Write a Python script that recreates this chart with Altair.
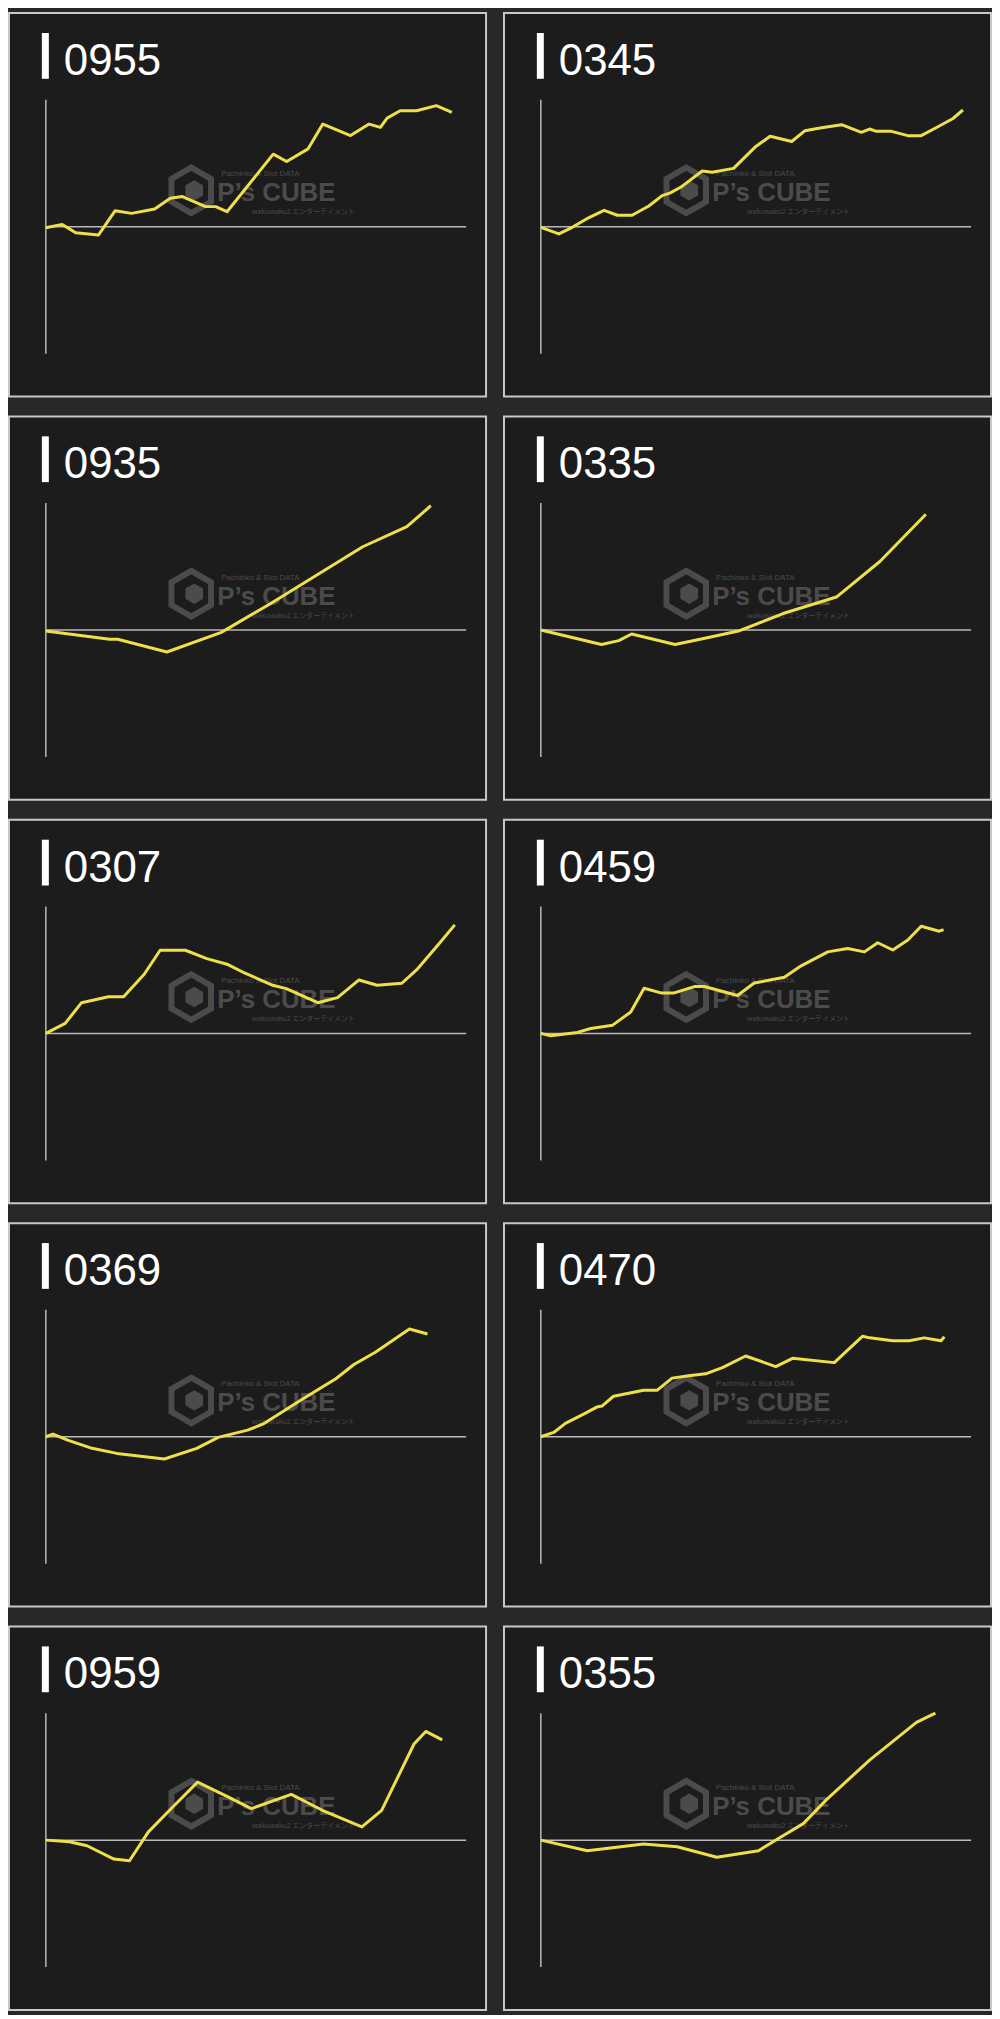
import altair as alt
import pandas as pd

# ---------------- data (x: % of run length, y: % of axis half-range) ----------------
names = ["0955", "0345", "0935", "0335", "0307", "0459", "0369", "0470", "0959", "0355"]

x_0955 = [0, 3.9, 7.1, 12.5, 16.5, 20.4, 25.9, 29.6, 32.5, 38.0, 40.4, 43.1, 54.1, 57.3, 62.4, 65.9, 72.5, 76.9, 79.6, 81.2, 84.3, 88.2, 92.9, 96.6]
y_0955 = [-0.8, 1.8, -4.7, -6.6, 12.6, 10.5, 13.9, 22.4, 23.7, 15.8, 15.8, 11.8, 57.1, 51.3, 61.3, 80.8, 71.8, 80.8, 78.2, 85.5, 91.3, 91.3, 95.3, 90.0]

x_0345 = [0, 4.2, 7.3, 11.2, 14.7, 17.8, 21.2, 25.1, 28.2, 30.1, 32.8, 37.5, 39.8, 44.8, 49.8, 53.3, 58.3, 61.4, 64.9, 69.9, 74.5, 76.4, 78.0, 81.5, 85.3, 88.4, 92.3, 95.8, 98.1]
y_0345 = [-0.5, -5.7, -0.5, 7.2, 12.9, 9.0, 9.0, 16.3, 24.5, 26.6, 31.7, 43.9, 42.8, 45.9, 62.7, 71.2, 67.1, 75.6, 77.7, 80.3, 74.3, 76.9, 75.1, 75.1, 71.7, 71.7, 78.7, 85.2, 91.9]

x_0935 = [0, 15.2, 17.1, 28.8, 41.6, 44.7, 53.3, 64.1, 75.4, 85.9, 91.6]
y_0935 = [-0.8, -7.3, -7.3, -17.3, -2.1, 3.9, 20.5, 42.5, 65.6, 81.4, 97.9]

x_0335 = [0, 14.1, 18.1, 21.1, 31.2, 38.4, 46.2, 56.3, 68.7, 78.8, 89.5]
y_0335 = [0, -11.4, -8.3, -3.1, -11.4, -6.2, -0.5, 13.0, 26.0, 54.0, 91.2]

x_0307 = [0, 4.6, 8.5, 14.9, 18.5, 23.4, 27.2, 33.2, 38.3, 43.1, 47.4, 54.0, 57.2, 64.7, 69.4, 74.5, 78.8, 84.7, 88.2, 93.3, 97.3]
y_0307 = [0, 7.9, 24.2, 28.9, 28.9, 46.6, 65.5, 65.5, 58.9, 54.5, 47.4, 37.9, 35.3, 24.2, 28.2, 42.1, 37.9, 39.5, 50.0, 69.7, 85.5]

x_0459 = [0, 2.3, 8.5, 11.6, 16.7, 20.9, 24.0, 27.9, 31.0, 35.7, 38.0, 45.7, 49.6, 56.6, 60.5, 66.7, 71.3, 75.2, 78.3, 81.8, 85.3, 88.4, 92.6, 93.6]
y_0459 = [0, -1.8, 0.8, 3.9, 6.5, 16.9, 35.6, 31.9, 31.9, 36.9, 36.9, 29.9, 39.7, 44.2, 53.2, 64.2, 66.8, 64.2, 71.4, 65.7, 73.5, 84.4, 80.5, 81.8]

x_0369 = [0, 1.7, 5.2, 11.0, 16.9, 28.2, 35.9, 41.0, 48.0, 51.9, 61.2, 69.0, 73.3, 78.4, 86.5, 90.8]
y_0369 = [0, 2.1, -2.6, -9.1, -13.1, -17.5, -9.1, -0.5, 5.2, 10.4, 30.0, 45.7, 56.9, 66.6, 84.9, 80.9]

x_0470 = [0, 3.0, 5.7, 9.5, 13.0, 14.2, 16.9, 23.9, 27.0, 30.5, 34.4, 38.3, 42.2, 47.6, 54.6, 58.5, 68.2, 74.8, 76.4, 81.8, 85.6, 89.1, 93.0, 93.8]
y_0470 = [0, 3.4, 10.6, 17.1, 23.4, 24.2, 31.9, 36.6, 36.6, 46.2, 48.1, 49.6, 54.5, 63.6, 55.3, 61.8, 58.4, 79.2, 77.9, 75.6, 75.6, 77.9, 75.6, 78.7]

x_0959 = [0, 5.6, 9.8, 16.2, 19.9, 24.4, 30.2, 36.1, 43.1, 48.9, 58.4, 65.8, 75.2, 79.9, 87.6, 90.4, 94.3]
y_0959 = [0, -1.3, -4.4, -14.9, -16.2, 6.5, 26.1, 45.7, 34.5, 24.8, 36.0, 23.5, 10.4, 23.5, 75.7, 85.6, 78.9]

x_0355 = [0, 10.8, 23.9, 31.7, 40.9, 50.6, 55.6, 61.0, 66.4, 76.4, 87.3, 91.7]
y_0355 = [0, -8.3, -3.1, -5.2, -13.5, -8.3, 2.1, 13.0, 31.9, 63.0, 92.7, 100.0]

series = {
    "0955": (x_0955, y_0955), "0345": (x_0345, y_0345),
    "0935": (x_0935, y_0935), "0335": (x_0335, y_0335),
    "0307": (x_0307, y_0307), "0459": (x_0459, y_0459),
    "0369": (x_0369, y_0369), "0470": (x_0470, y_0470),
    "0959": (x_0959, y_0959), "0355": (x_0355, y_0355),
}

# ---------------- style ----------------
LINE = "#efe04a"
AXIS = "#b9b9b9"
WM = "#4b4b4b"
H = 385
WIDTHS = [479, 489]
HEX = "M0,-1L0.866,-0.5L0.866,0.5L0,1L-0.866,0.5L-0.866,-0.5Z"


def panel(name, W):
    xs, ys = series[name]
    u = 100.0 / (W - 57)
    xlo = -37 * u
    xhi = xlo + W * u
    yhi = 100 + 87 / 127.5 * 100
    ylo = -(100 + (H - 342) / 127.5 * 100)
    sx = alt.Scale(domain=[xlo, xhi], nice=False, zero=False)
    sy = alt.Scale(domain=[ylo, yhi], nice=False, zero=False)

    df = pd.DataFrame({"x": xs, "y": ys, "i": list(range(len(xs)))})
    ax = pd.DataFrame({"x0": [0], "x1": [100], "y0": [-100], "y1": [100], "z": [0]})
    one = pd.DataFrame({"t": [name]})

    wm_hex = alt.Chart(one).mark_point(shape=HEX, filled=False, stroke=WM, strokeWidth=6,
                                       size=2100, opacity=1).encode(
        x=alt.value(183), y=alt.value(178))
    wm_cube = alt.Chart(one).mark_point(shape=HEX, filled=True, fill=WM, size=420, opacity=1).encode(
        x=alt.value(186), y=alt.value(178))
    wm_big = alt.Chart(pd.DataFrame({"t": ["P’s CUBE"]})).mark_text(
        font="Liberation Sans", fontWeight="bold", fontSize=26, color=WM, align="left",
        baseline="alphabetic").encode(x=alt.value(209), y=alt.value(189), text="t:N")
    wm_small = alt.Chart(pd.DataFrame({"t": ["Pachinko & Slot DATA"]})).mark_text(
        font="Liberation Sans", fontSize=8, color=WM, align="left",
        baseline="alphabetic").encode(x=alt.value(213), y=alt.value(164), text="t:N")
    wm_jp = alt.Chart(pd.DataFrame({"t": ["wakuwaku2 エンターテイメント"]})).mark_text(
        font="Noto Sans CJK JP", fontSize=7, color=WM, align="left",
        baseline="alphabetic").encode(x=alt.value(244), y=alt.value(202), text="t:N")

    vline = alt.Chart(ax).mark_rule(color=AXIS, strokeWidth=1.5).encode(
        x=alt.X("x0:Q", scale=sx, axis=None),
        y=alt.Y("y0:Q", scale=sy, axis=None), y2="y1:Q")
    hline = alt.Chart(ax).mark_rule(color=AXIS, strokeWidth=1.5).encode(
        x=alt.X("x0:Q", scale=sx, axis=None), x2="x1:Q",
        y=alt.Y("z:Q", scale=sy, axis=None))
    line = alt.Chart(df).mark_line(color=LINE, strokeWidth=3, strokeJoin="round").encode(
        x=alt.X("x:Q", scale=sx, axis=None),
        y=alt.Y("y:Q", scale=sy, axis=None),
        order=alt.Order("i:Q"))
    bar = alt.Chart(one).mark_rect(color="#ffffff").encode(
        x=alt.value(33), x2=alt.value(40), y=alt.value(20), y2=alt.value(66))
    title = alt.Chart(one).mark_text(font="Liberation Sans", fontSize=44, color="#ffffff",
                                     align="left", baseline="alphabetic").encode(
        x=alt.value(55), y=alt.value(62), text="t:N")

    return alt.layer(wm_hex, wm_cube, wm_big, wm_small, wm_jp, vline, hline, line, bar, title
                     ).properties(width=W, height=H)


rows = []
for r in range(5):
    left = panel(names[2 * r], WIDTHS[0])
    right = panel(names[2 * r + 1], WIDTHS[1])
    rows.append(alt.hconcat(left, right, spacing=16))

chart = alt.vconcat(*rows, spacing=18).configure_view(
    fill="#1c1c1c", stroke="#c8c8c8", strokeWidth=2
).properties(background="#282828", padding=0)

chart.save("out.html", embed_options={"renderer": "svg", "actions": False})
